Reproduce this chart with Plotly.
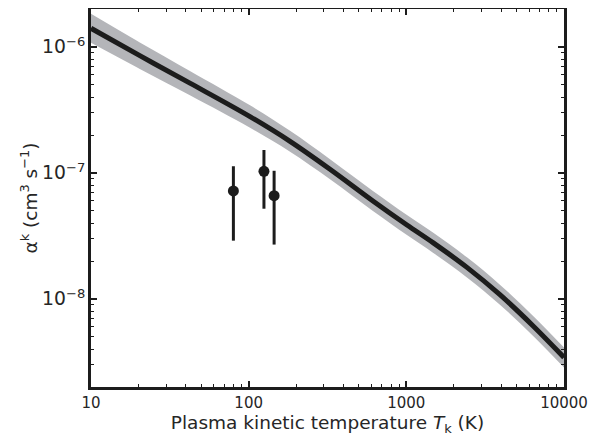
import plotly.graph_objects as go

# Model curve (temperature in K, rate coefficient in cm^3 s^-1)
temp_model = [10, 20.4, 42.4, 102, 183, 328, 614, 1009, 1475, 2423, 3922, 6350, 10000]
alpha_model = [1.406e-6, 8.52e-7, 5.16e-7, 2.80e-7, 1.782e-7, 1.070e-7, 5.99e-8,
               3.86e-8, 2.796e-8, 1.779e-8, 1.080e-8, 6.13e-9, 3.43e-9]
alpha_upper = [1.832e-6, 1.085e-6, 6.45e-7, 3.44e-7, 2.158e-7, 1.286e-7, 7.20e-8,
               4.64e-8, 3.36e-8, 2.138e-8, 1.298e-8, 7.37e-9, 4.12e-9]
alpha_lower = [1.079e-6, 6.69e-7, 4.13e-7, 2.28e-7, 1.471e-7, 8.90e-8, 4.98e-8,
               3.21e-8, 2.326e-8, 1.480e-8, 8.99e-9, 5.10e-9, 2.85e-9]

# Measurements
temp_meas = [80, 125, 145]
alpha_meas = [7.2e-8, 1.03e-7, 6.6e-8]
alpha_meas_hi = [1.13e-7, 1.52e-7, 1.04e-7]
alpha_meas_lo = [2.9e-8, 5.2e-8, 2.7e-8]

# Axis ticks
x_tickvals = [10, 100, 1000, 10000]
x_ticktext = ["10", "100", "1000", "10000"]

err_plus = [h - v for h, v in zip(alpha_meas_hi, alpha_meas)]
err_minus = [v - l for v, l in zip(alpha_meas, alpha_meas_lo)]

dark = "#1c1c1c"
band = "#b4b5b9"
txt = "#262626"

fig = go.Figure()
fig.add_trace(go.Scatter(x=temp_model, y=alpha_upper, mode="lines",
                         line=dict(width=0, shape="spline", smoothing=1, color=band),
                         showlegend=False, hoverinfo="skip"))
fig.add_trace(go.Scatter(x=temp_model, y=alpha_lower, mode="lines",
                         line=dict(width=0, shape="spline", smoothing=1, color=band),
                         fill="tonexty", fillcolor=band,
                         showlegend=False, hoverinfo="skip"))
fig.add_trace(go.Scatter(x=temp_model, y=alpha_model, mode="lines",
                         line=dict(width=5, shape="spline", smoothing=1, color=dark),
                         showlegend=False))
fig.add_trace(go.Scatter(x=temp_meas, y=alpha_meas, mode="markers",
                         marker=dict(size=11, color=dark),
                         error_y=dict(type="data", symmetric=False, array=err_plus,
                                      arrayminus=err_minus, width=0, thickness=3,
                                      color=dark),
                         showlegend=False))

axis_common = dict(
    showgrid=False, zeroline=False, showline=True, linecolor=dark, linewidth=2.5,
    mirror="allticks", ticks="inside", ticklen=6, tickwidth=1.5, tickcolor=dark,
    minor=dict(ticks="inside", ticklen=3, tickwidth=1.2, tickcolor=dark, dtick="D1",
               showgrid=False),
    tickfont=dict(family="DejaVu Sans", size=15, color=txt),
    automargin=False,
)

fig.update_xaxes(type="log", range=[1, 4], tickmode="array",
                 tickvals=x_tickvals, ticktext=x_ticktext,
                 title=dict(text="Plasma kinetic temperature <i>T</i><sub>k</sub> (K)",
                            font=dict(family="DejaVu Sans", size=18.5, color=txt),
                            standoff=6),
                 **axis_common)
fig.update_yaxes(type="log", range=[-8.699, -5.699], dtick=1, exponentformat="power",
                 title=dict(text="α<sup>k</sup> (cm<sup>3</sup> s<sup>−1</sup>)",
                            font=dict(family="DejaVu Sans", size=18.5, color=txt),
                            standoff=0),
                 **axis_common)

# page body has an 8px margin, so the figure is sized/offset to compensate
fig.update_layout(width=594, height=436, margin=dict(l=83, r=38, t=1, b=57),
                  plot_bgcolor="white", paper_bgcolor="white",
                  font=dict(family="DejaVu Sans"))

fig.write_html("out.html")
